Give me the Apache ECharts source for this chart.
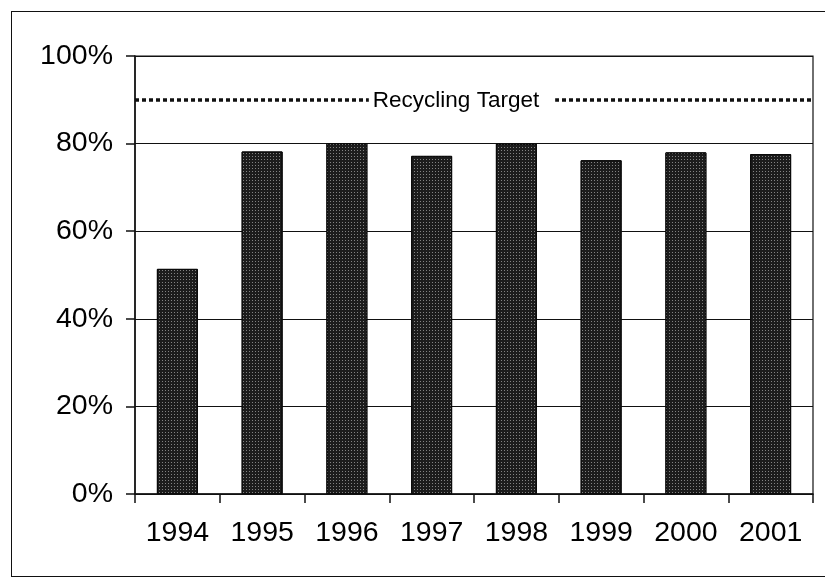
<!DOCTYPE html>
<html>
<head>
<meta charset="utf-8">
<script src="https://cdn.jsdelivr.net/npm/echarts@6/dist/echarts.min.js"></script>
<style>
html,body{margin:0;padding:0;background:#fff;}
#frame{position:absolute;left:11px;top:11px;width:830px;height:566px;border:1.5px solid #111;box-sizing:border-box;}
#chart{position:absolute;left:0;top:0;width:825px;height:586px;}
</style>
</head>
<body>
<div id="frame"></div>
<div id="chart"></div>
<script>
const categories = ['1994','1995','1996','1997','1998','1999','2000','2001'];
const recyclingRate = [51.4, 78.2, 80.1, 77.2, 80.0, 76.2, 78.0, 77.6];
const targetValue = 90;
const targetLabel = 'Recycling Target';
const yTicks = { min: 0, max: 100, interval: 20 };

const chart = echarts.init(document.getElementById('chart'), null, {renderer:'canvas'});
chart.setOption({
  animation: false,
  backgroundColor: 'transparent',
  grid: { left: 135, top: 56, width: 678, height: 438, show: true, borderColor: '#111', borderWidth: 1.2, backgroundColor: 'transparent' },
  xAxis: {
    type: 'category',
    data: categories,
    boundaryGap: true,
    axisLine: { lineStyle: { color: '#111', width: 1.5 } },
    axisTick: { show: true, inside: false, length: 9, alignWithLabel: false, lineStyle: { color: '#111', width: 1.5 } },
    axisLabel: { color: '#000', fontFamily: 'Liberation Sans, Arial', fontSize: 28.5, margin: 25 },
    splitLine: { show: false }
  },
  yAxis: {
    type: 'value',
    min: yTicks.min, max: yTicks.max, interval: yTicks.interval,
    axisLine: { show: true, lineStyle: { color: '#111', width: 1.5 } },
    axisTick: { show: true, inside: false, length: 9, lineStyle: { color: '#111', width: 1.5 } },
    axisLabel: { color: '#000', fontFamily: 'Liberation Sans, Arial', fontSize: 28.5, margin: 22, formatter: '{value}%' },
    splitLine: { show: true, lineStyle: { color: '#111', width: 1.2 } }
  },
  series: [{
    type: 'bar',
    data: recyclingRate,
    barWidth: 41,
    itemStyle: {
      color: '#1c1c1c',
      borderColor: '#0a0a0a',
      borderWidth: 1,
      decal: { symbol: 'rect', symbolSize: 1, color: 'rgba(255,255,255,0.45)', dashArrayX: [1, 2], dashArrayY: [1, 2], rotation: 0 }
    },
    markLine: {
      silent: true,
      symbol: ['none', 'none'],
      data: [{ yAxis: targetValue }],
      lineStyle: { color: '#111', type: [4, 3], width: 3.5 },
      label: {
        show: true,
        position: 'middle',
        formatter: targetLabel,
        color: '#000',
        fontFamily: 'Liberation Sans, Arial',
        fontSize: 22.5,
        backgroundColor: '#fff',
        padding: [5, 16, 5, 4],
        offset: [-12, 17],
        distance: 0
      }
    }
  }]
});
</script>
</body>
</html>
